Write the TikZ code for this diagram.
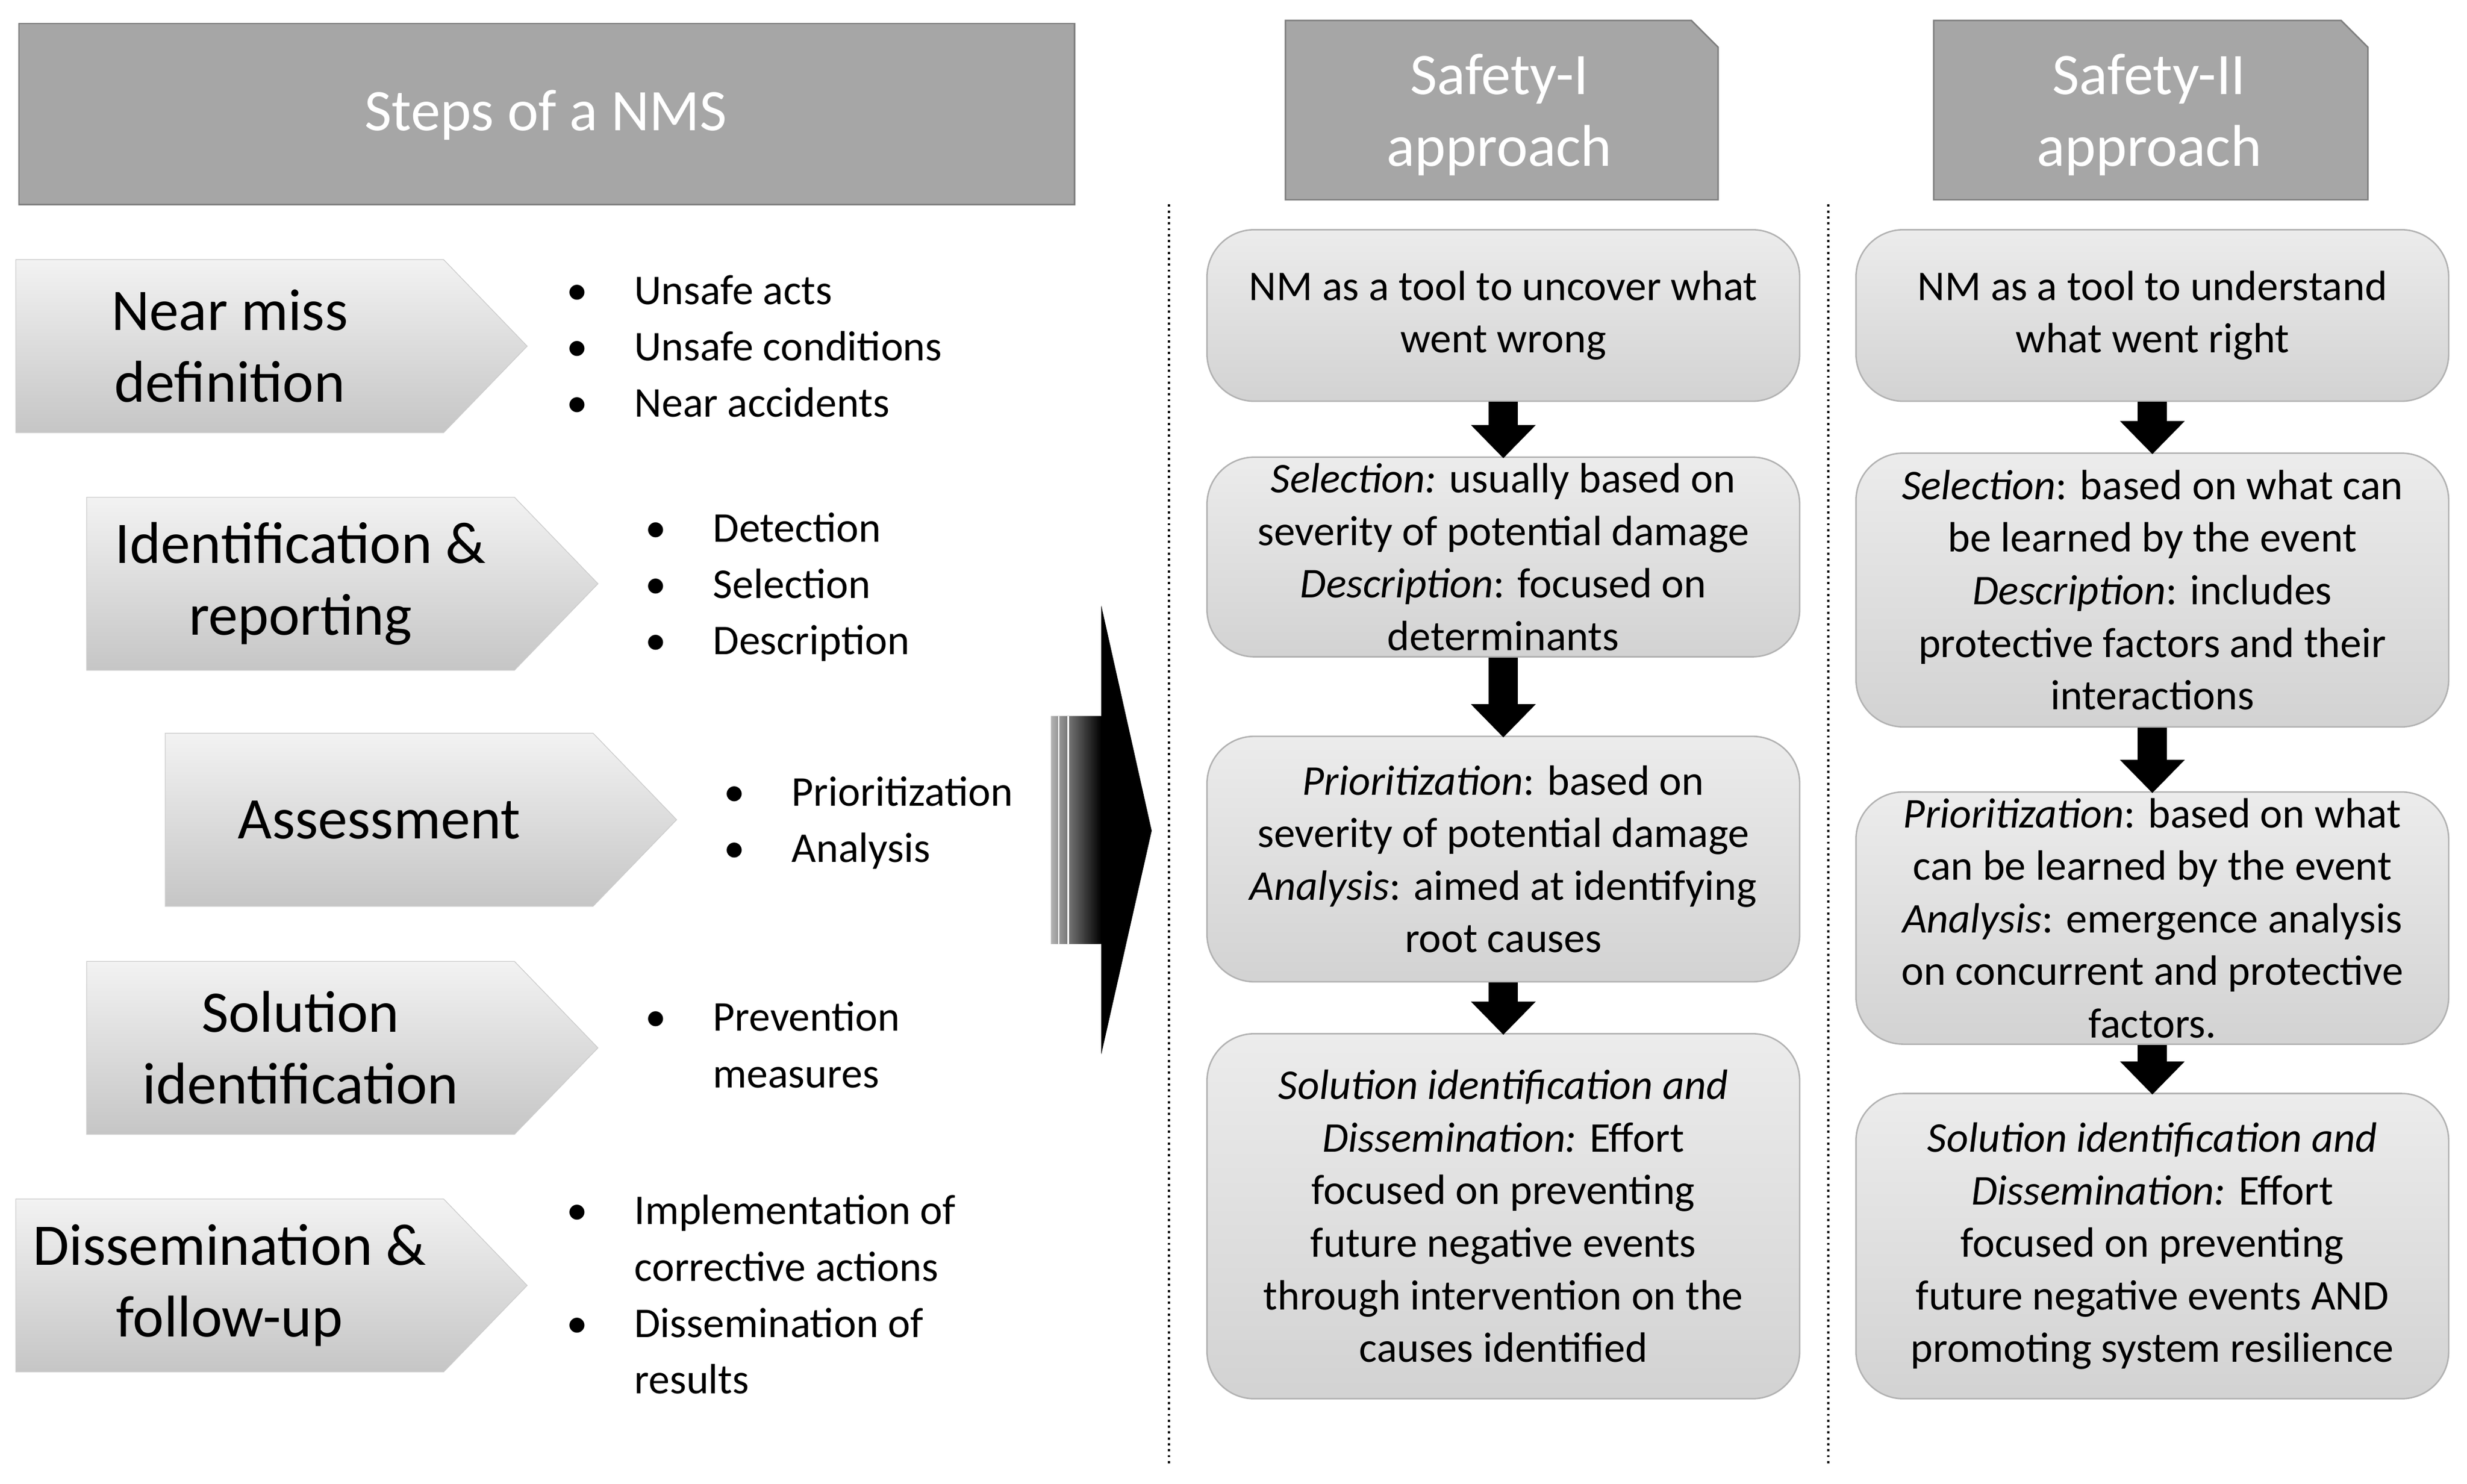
\documentclass[tikz,border=0pt]{standalone}
\usepackage{fontspec}
\setmainfont{Carlito}
\usepackage{array}
\usetikzlibrary{shapes.symbols,arrows.meta,positioning}

\definecolor{hdrgray}{HTML}{A6A6A6}
\definecolor{hdrline}{HTML}{7F7F7F}

\tikzset{
  nmsstep/.style={shape=signal, signal to=east, signal pointer angle=92,
    draw=gray!40, top color=gray!10, bottom color=gray!45,
    minimum width=9.75cm, minimum height=3.3cm, inner sep=0pt,
    font=\fontsize{32}{39}\selectfont, align=center},
  hdr/.style={fill=hdrgray, draw=hdrline, thick},
  hdrtext/.style={text=white, font=\fontsize{32}{39}\selectfont, align=center},
  appbox/.style={rectangle, rounded corners=0.9cm, draw=gray!60, thick,
    top color=gray!15, bottom color=gray!35, align=center,
    font=\fontsize{23}{28.5}\selectfont, minimum width=11.3cm},
  bullets/.style={anchor=north west, inner sep=0pt, font=\fontsize{23}{30.6}\selectfont},
  downarr/.style={line width=16pt, -{Triangle[width=34pt,length=18pt]}, black, shorten >=-1pt},
  divider/.style={dotted, very thick}
}

\newcommand{\blist}[1]{\renewcommand{\arraystretch}{1.0}\begin{tabular}{@{}p{1.29cm}@{}l@{}}#1\end{tabular}}

\begin{document}
\begin{tikzpicture}[x=0.03cm, y=-0.03cm]
  \useasboundingbox (0,0) rectangle (1568,943);

  % left header
  \draw[hdr] (12,15) rectangle (683,130);
  \node[hdrtext] (steps) at (347,73) {Steps of a NMS};

  % steps
  \node[nmsstep] (def)    at (146,220) {Near miss\\definition};
  \node[nmsstep] (ident)  at (191,371) {Identification \&\\reporting};
  \node[nmsstep] (assess) at (241,521) {Assessment};
  \node[nmsstep] (sol)    at (191,666) {Solution\\identification};
  \node[nmsstep] (diss)   at (146,817) {Dissemination \&\\follow-up};

  % bullet lists
  \node[bullets] (l1) at (360,168) {\blist{\textbullet & Unsafe acts\\ \textbullet & Unsafe conditions\\ \textbullet & Near accidents}};
  \node[bullets] (l2) at (410,319) {\blist{\textbullet & Detection\\ \textbullet & Selection\\ \textbullet & Description}};
  \node[bullets] (l3) at (460,487) {\blist{\textbullet & Prioritization\\ \textbullet & Analysis}};
  \node[bullets] (l4) at (410,630) {\blist{\textbullet & Prevention\\ & measures}};
  \node[bullets] (l5) at (360,753) {\blist{\textbullet & Implementation of\\ & corrective actions\\ \textbullet & Dissemination of\\ & results}};

  % big arrow
  \shade[left color=gray!60, right color=black, middle color=black]
    (668,455) -- (700,455) -- (700,385) -- (732,528) -- (700,670) -- (700,600) -- (668,600) -- cycle;
  \draw[white, thick] (673,455) -- (673,600);
  \draw[white, thick] (679,455) -- (679,600);

  % dividers
  \draw[divider] (743,130) -- (743,932);
  \draw[divider] (1162,130) -- (1162,932);

  % approach headers
  \draw[hdr] (817,13) -- (1075,13) -- (1092,30) -- (1092,127) -- (817,127) -- cycle;
  \node[hdrtext] (s1) at (953,73) {Safety-I\\approach};
  \draw[hdr] (1229,13) -- (1488,13) -- (1505,30) -- (1505,127) -- (1229,127) -- cycle;
  \node[hdrtext] (s2) at (1366,73) {Safety-II\\approach};

  % Safety-I column
  \node[appbox, minimum height=3.27cm] (a1) at (955.5,200.5) {NM as a tool to uncover what\\went wrong};
  \node[appbox, minimum height=3.78cm] (a2) at (955.5,354) {\textit{Selection:} usually based on\\severity of potential damage\\\textit{Description}: focused on\\determinants};
  \node[appbox, minimum height=4.68cm] (a3) at (955.5,546) {\textit{Prioritization}: based on\\severity of potential damage\\\textit{Analysis}: aimed at identifying\\root causes};
  \node[appbox, minimum height=6.96cm] (a4) at (955.5,773) {\textit{Solution identification and}\\\textit{Dissemination:} Effort\\focused on preventing\\future negative events\\through intervention on the\\causes identified};
  \draw[downarr] (a1) -- (a2);
  \draw[downarr] (a2) -- (a3);
  \draw[downarr] (a3) -- (a4);

  % Safety-II column
  \node[appbox, minimum height=3.27cm] (b1) at (1368,200.5) {NM as a tool to understand\\what went right};
  \node[appbox, minimum height=5.22cm] (b2) at (1368,375) {\textit{Selection}: based on what can\\be learned by the event\\\textit{Description}: includes\\protective factors and their\\interactions};
  \node[appbox, minimum height=4.77cm] (b3) at (1368,583.5) {\textit{Prioritization}: based on what\\can be learned by the event\\\textit{Analysis}: emergence analysis\\on concurrent and protective\\factors.};
  \node[appbox, minimum height=5.82cm] (b4) at (1368,792) {\textit{Solution identification and}\\\textit{Dissemination:} Effort\\focused on preventing\\future negative events AND\\promoting system resilience};
  \draw[downarr] (b1) -- (b2);
  \draw[downarr] (b2) -- (b3);
  \draw[downarr] (b3) -- (b4);
\end{tikzpicture}
\end{document}
